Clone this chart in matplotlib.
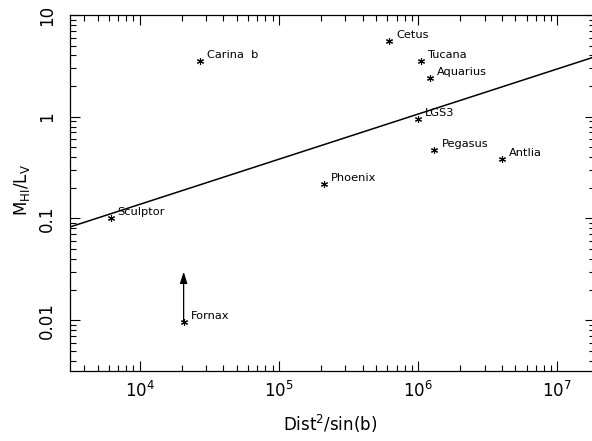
import numpy as np
import matplotlib
matplotlib.use("Agg")
import matplotlib.pyplot as plt
from matplotlib.ticker import LogLocator, FixedLocator, FixedFormatter, NullFormatter

# Dwarf galaxies: Dist^2/sin(b) vs HI mass-to-light ratio
names = ["Carina  b", "Sculptor", "Fornax", "Phoenix", "Cetus", "Tucana",
         "Aquarius", "LGS3", "Pegasus", "Antlia"]
dist2_sinb = [2.7e4, 6.2e3, 2.07e4, 2.1e5, 6.2e5, 1.04e6, 1.22e6, 9.9e5, 1.31e6, 4.0e6]
mhi_lv = [3.5, 0.10, 0.0096, 0.217, 5.6, 3.5, 2.38, 0.95, 0.466, 0.385]

# Fornax is an upper limit drawn with an arrow up to this value
fornax_arrow_top = 0.030

# Power-law fit: log10(y) = fit_intercept + fit_slope * log10(x)
fit_slope = 0.444
fit_intercept = -2.638

x_range = (10 ** 3.5, 10 ** 7.27)
y_range = (10 ** -2.5, 10.0)

plt.rcParams["font.family"] = ["DejaVu Sans"]
plt.rcParams["mathtext.default"] = "regular"

fig = plt.figure(figsize=(5.92, 4.41), dpi=100)
ax = fig.add_axes([70 / 592, 1 - 371 / 441, 525 / 592, 356 / 441])

ax.set_xscale("log")
ax.set_yscale("log")
ax.set_xlim(*x_range)
ax.set_ylim(*y_range)

# fitted line
lx = np.array(x_range)
ly = 10 ** (fit_intercept + fit_slope * np.log10(lx))
ax.plot(lx, ly, color="black", lw=1.1, solid_capstyle="butt")

# points
ax.plot(dist2_sinb, mhi_lv, linestyle="none", marker=(6, 2, 0),
        markersize=5, markeredgewidth=0.8, color="black")

for name, x, y in zip(names, dist2_sinb, mhi_lv):
    ax.annotate(name, (x, y), xytext=(7, 6), textcoords="offset pixels",
                ha="left", va="center", fontsize=8.2)

# Fornax upper-limit arrow
fx = dist2_sinb[names.index("Fornax")]
fy = mhi_lv[names.index("Fornax")]
ax.annotate("", xy=(fx, fornax_arrow_top), xytext=(fx, fy),
            arrowprops=dict(arrowstyle="-|>,head_length=0.7,head_width=0.22",
                            color="black", lw=0.9, shrinkA=0, shrinkB=0))

# ticks
ax.xaxis.set_major_locator(LogLocator(base=10, numticks=10))
ax.xaxis.set_minor_locator(LogLocator(base=10, subs=np.arange(2, 10), numticks=20))
ax.xaxis.set_minor_formatter(NullFormatter())

ytick_vals = [0.01, 0.1, 1, 10]
ytick_labels = ["0.01", "0.1", "1", "10"]
ax.yaxis.set_major_locator(FixedLocator(ytick_vals))
ax.yaxis.set_major_formatter(FixedFormatter(ytick_labels))
ax.yaxis.set_minor_locator(LogLocator(base=10, subs=np.arange(2, 10), numticks=20))
ax.yaxis.set_minor_formatter(NullFormatter())

ax.tick_params(which="both", direction="in", top=True, right=True, width=0.8)
ax.tick_params(which="major", length=7)
ax.tick_params(which="minor", length=4)
ax.tick_params(axis="x", which="major", labelsize=12, pad=7)
ax.tick_params(axis="y", which="major", labelsize=12, pad=10, labelrotation=90)
for lab in ax.get_yticklabels():
    lab.set_va("center")

for s in ax.spines.values():
    s.set_linewidth(0.9)

ax.set_xlabel("Dist$^2$/sin(b)", fontsize=12)
ax.set_ylabel("M$_{HI}$/L$_V$", fontsize=12)
ax.xaxis.set_label_coords(0.495, -0.118)
ax.yaxis.set_label_coords(-0.072, 0.508)

fig.savefig("out.png", dpi=100)
